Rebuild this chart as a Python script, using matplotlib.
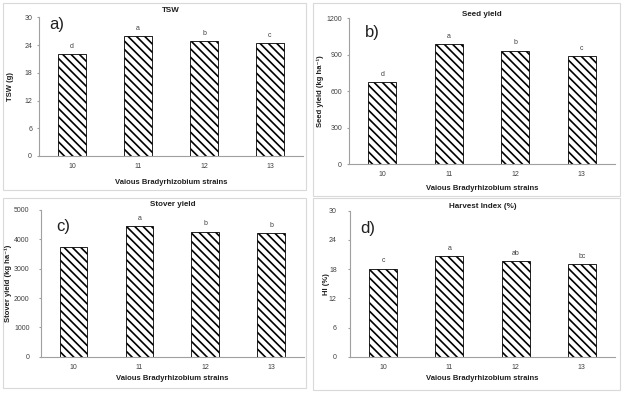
import matplotlib
matplotlib.use("Agg")
import matplotlib.pyplot as plt
from matplotlib.patches import Rectangle

plt.rcParams['font.family'] = ['Liberation Sans', 'DejaVu Sans']
plt.rcParams['hatch.linewidth'] = 1.2

strains = ["10", "11", "12", "13"]
tsw = [22.0, 26.0, 24.9, 24.4]
tsw_letters = ["d", "a", "b", "c"]
seed = [676, 990, 935, 888]
seed_letters = ["d", "a", "b", "c"]
stover = [3750, 4456, 4262, 4205]
stover_letters = ["", "a", "b", "b"]
hi = [18.1, 20.7, 19.6, 19.1]
hi_letters = ["c", "a", "ab", "bc"]

W, H = 624, 395
fig = plt.figure(figsize=(W / 100, H / 100), dpi=100)

def px_rect(l, t, r, b):
    return [l / W, 1 - b / H, (r - l) / W, (b - t) / H]

# panel borders
for (l, t, r, b) in [(3, 3, 306, 190), (313, 3, 620, 196), (3, 198, 306, 388), (313, 198, 620, 390)]:
    fig.patches.append(Rectangle((l / W, 1 - b / H), (r - l) / W, (b - t) / H,
                                 transform=fig.transFigure, fill=False,
                                 edgecolor='#d9d9d9', linewidth=0.8))

panels = [
    dict(rect=(39, 17.3, 303, 156), vals=tsw, letters=tsw_letters, ymax=30, ystep=6, ypad=3.5,
         title="TSW", title_y=10, ylabel="TSW (g)", tag="a)", tag_xy=(49, 25), xlab_y=182, ylab_x=10),
    dict(rect=(349, 18.3, 615, 164.3), vals=seed, letters=seed_letters, ymax=1200, ystep=300, ypad=3.5,
         title="Seed yield", title_y=14, ylabel="Seed yield (kg ha\u207b\u00b9)", tag="b)", tag_xy=(365, 33), xlab_y=188, ylab_x=320),
    dict(rect=(40.7, 210, 304, 356.7), vals=stover, letters=stover_letters, ymax=5000, ystep=1000, ypad=6.5,
         title="Stover yield", title_y=204, ylabel="Stover yield (kg ha\u207b\u00b9)", tag="c)", tag_xy=(56, 227), xlab_y=379, ylab_x=8),
    dict(rect=(350, 210.7, 615, 356.7), vals=hi, letters=hi_letters, ymax=30, ystep=6, ypad=8,
         title="Harvest Index (%)", title_y=207, ylabel="HI (%)", tag="d)", tag_xy=(360, 228), xlab_y=379, ylab_x=326),
]

for p in panels:
    l, t, r, b = p['rect']
    ax = fig.add_axes(px_rect(l, t, r, b))
    x = list(range(len(strains)))
    ax.bar(x, p['vals'], width=0.42, color='white', edgecolor='black',
           hatch='\\\\\\\\', linewidth=0.6)
    ax.set_xlim(-0.5, 3.5)
    ax.set_ylim(0, p['ymax'])
    ax.set_yticks(range(0, p['ymax'] + 1, p['ystep']))
    ax.set_xticks(x)
    ax.set_xticklabels(strains)
    ax.tick_params(axis='x', which='major', length=0, labelsize=5, colors='#404040', pad=5)
    ax.tick_params(axis='y', length=1.5, labelsize=5, colors='#404040', color='#a0a0a0', pad=p['ypad'])
    for s in ['top', 'right']:
        ax.spines[s].set_visible(False)
    for s in ['left', 'bottom']:
        ax.spines[s].set_color('#a0a0a0')
        ax.spines[s].set_linewidth(0.8)
    for xi, v, lt in zip(x, p['vals'], p['letters']):
        if lt:
            ax.annotate(lt, (xi, v), xytext=(0, 3), textcoords='offset points',
                        ha='center', va='bottom', fontsize=5, color='#404040')
    cx = (l + r) / 2 / W
    fig.text(cx, 1 - p['title_y'] / H, p['title'], ha='center', va='center',
             fontsize=5.8, fontweight='bold', color='#202020')
    fig.text(cx, 1 - p['xlab_y'] / H, "Vaious Bradyrhizobium strains", ha='center', va='center',
             fontsize=5.5, fontweight='bold', color='#202020')
    fig.text(p['ylab_x'] / W, 1 - ((t + b) / 2) / H, p['ylabel'], ha='center', va='center',
             rotation=90, fontsize=5.5, fontweight='bold', color='#202020')
    fig.text(p['tag_xy'][0] / W, 1 - p['tag_xy'][1] / H, p['tag'], ha='left', va='center',
             fontsize=12, color='#202020')

fig.savefig("out.png", dpi=100, facecolor='white')
